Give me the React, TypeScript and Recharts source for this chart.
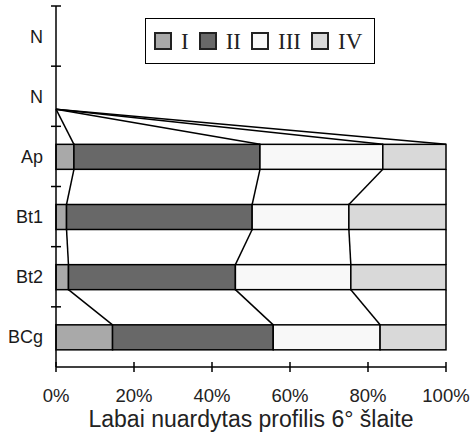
import React from 'react';
import { BarChart, Bar, XAxis, YAxis, Legend } from 'recharts';

// ---- data ----
const horizons = ['N', 'N', 'Ap', 'Bt1', 'Bt2', 'BCg'];
const seriesNames = ['I', 'II', 'III', 'IV'];
const seriesI = [0, 0, 4.6, 2.7, 3.2, 14.5];
const seriesII = [0, 0, 47.7, 47.6, 42.8, 41.2];
const seriesIII = [0, 0, 31.5, 24.8, 29.6, 27.4];
const seriesIV = [0, 0, 16.2, 24.9, 24.4, 16.9];
const xTicks = [0, 20, 40, 60, 80, 100];
const xTitle = 'Labai nuardytas profilis 6° šlaite';

// ---- layout / style ----
const W = 475;
const H = 435;
const MARGIN = { top: 6, right: 29, left: 0, bottom: 0 };
const X_AXIS_H = 68;
const Y_AXIS_W = 56;
const BAR_SIZE = 25;
const PLOT_H = H - MARGIN.top - MARGIN.bottom - X_AXIS_H;
const BAND = PLOT_H / horizons.length;

const COLORS = ['#a9a9a9', '#686868', '#f8f8f8', '#d9d9d9'];
const SANS = '"Liberation Sans", Arial, sans-serif';
const SERIF = '"Liberation Serif", "Times New Roman", serif';
const LINE_W = 1.5;

const series = [seriesI, seriesII, seriesIII, seriesIV];

const rows = horizons.map((h, i) => {
  const r: any = { id: i, name: h };
  seriesNames.forEach((s, k) => {
    r[s] = series[k][i];
  });
  return r;
});

const cum = rows.map((_, i) => {
  let acc = 0;
  return series.map((s) => {
    acc += s[i];
    return acc;
  });
});

// Bar segment; the last segment of each row also draws the series lines
// linking the previous row's segment boundaries to this row's, using the
// pixel scale implied by the library-computed bar geometry.
const renderSegment = (props: any, k: number) => {
  const { x, y, width, height, payload } = props;
  if (!(width > 0) || !(height > 0)) return <g />;
  const i = payload.id;
  const parts: any[] = [
    <rect key="r" x={x} y={y} width={width} height={height} fill={COLORS[k]} stroke="#000" strokeWidth={LINE_W} />,
  ];
  if (k === series.length - 1 && i > 0) {
    const v = series[k][i];
    const s = width / v;
    const x0 = x + width - cum[i][k] * s;
    const yPrev = y - (BAND - height);
    for (let j = 0; j < series.length; j++) {
      parts.push(
        <line
          key={'c' + j}
          x1={x0 + cum[i - 1][j] * s}
          y1={yPrev}
          x2={x0 + cum[i][j] * s}
          y2={y}
          stroke="#000"
          strokeWidth={LINE_W}
        />
      );
    }
  }
  return <g>{parts}</g>;
};

const YTick = (props: any) => {
  const { x, y, payload } = props;
  return (
    <g>
      <line x1={x - 5} x2={x + 5} y1={y - BAND / 2} y2={y - BAND / 2} stroke="#000" strokeWidth={1.5} />
      <text x={x - 13} y={y + 6.5} textAnchor="end" fontFamily={SANS} fontSize={18} fill="#1a1a1a">
        {horizons[payload.value]}
      </text>
    </g>
  );
};

const XTick = (props: any) => {
  const { x, y, payload } = props;
  return (
    <g>
      <line x1={x} x2={x} y1={y - 5} y2={y + 5} stroke="#000" strokeWidth={1.5} />
      <text x={x} y={y + 35} textAnchor="middle" fontFamily={SANS} fontSize={18.5} fill="#222">
        {`${payload.value}%`}
      </text>
    </g>
  );
};

const LegendBox = (props: any) => {
  const { payload } = props;
  return (
    <div
      style={{
        display: 'flex',
        alignItems: 'center',
        border: '1.5px solid #000',
        background: '#fff',
        height: 46,
        boxSizing: 'border-box',
        paddingLeft: 8,
      }}
    >
      {(payload || []).map((p: any) => (
        <div key={p.value} style={{ display: 'flex', alignItems: 'center', marginRight: 10 }}>
          <span
            style={{
              display: 'inline-block',
              width: 18,
              height: 18,
              background: COLORS[seriesNames.indexOf(p.value)] || p.color,
              border: '2px solid #222',
              boxSizing: 'border-box',
              marginRight: 9,
            }}
          />
          <span style={{ fontFamily: SERIF, fontSize: 23, lineHeight: 1, color: '#222' }}>{p.value}</span>
        </div>
      ))}
    </div>
  );
};

export default function App() {
  return (
    <div style={{ position: 'absolute', left: 0, top: 0, width: W, height: H, background: '#fff' }}>
      <BarChart width={W} height={H} data={rows} layout="vertical" margin={MARGIN}>
        <XAxis
          type="number"
          domain={[0, 100]}
          ticks={xTicks}
          height={X_AXIS_H}
          tick={<XTick />}
          tickLine={false}
          tickSize={0}
          tickMargin={0}
          axisLine={{ stroke: '#000', strokeWidth: 1.5 }}
          interval={0}
          label={{
            value: xTitle,
            position: 'insideBottom',
            offset: 8,
            fontFamily: SANS,
            fontSize: 23,
            fill: '#222',
          }}
        />
        <YAxis
          type="category"
          dataKey="id"
          width={Y_AXIS_W}
          tick={<YTick />}
          tickLine={false}
          tickSize={0}
          tickMargin={0}
          interval={0}
          axisLine={{ stroke: '#000', strokeWidth: 1.5 }}
        />
        <Legend
          content={<LegendBox />}
          layout="horizontal"
          verticalAlign="middle"
          align="center"
          wrapperStyle={{ left: 145, top: 18, width: 230, height: 46 }}
        />
        {seriesNames.map((s, k) => (
          <Bar
            key={s}
            dataKey={s}
            name={s}
            stackId="a"
            fill={COLORS[k]}
            stroke="#000"
            strokeWidth={LINE_W}
            barSize={BAR_SIZE}
            shape={(p: any) => renderSegment(p, k)}
            isAnimationActive={false}
          />
        ))}
      </BarChart>
    </div>
  );
}
